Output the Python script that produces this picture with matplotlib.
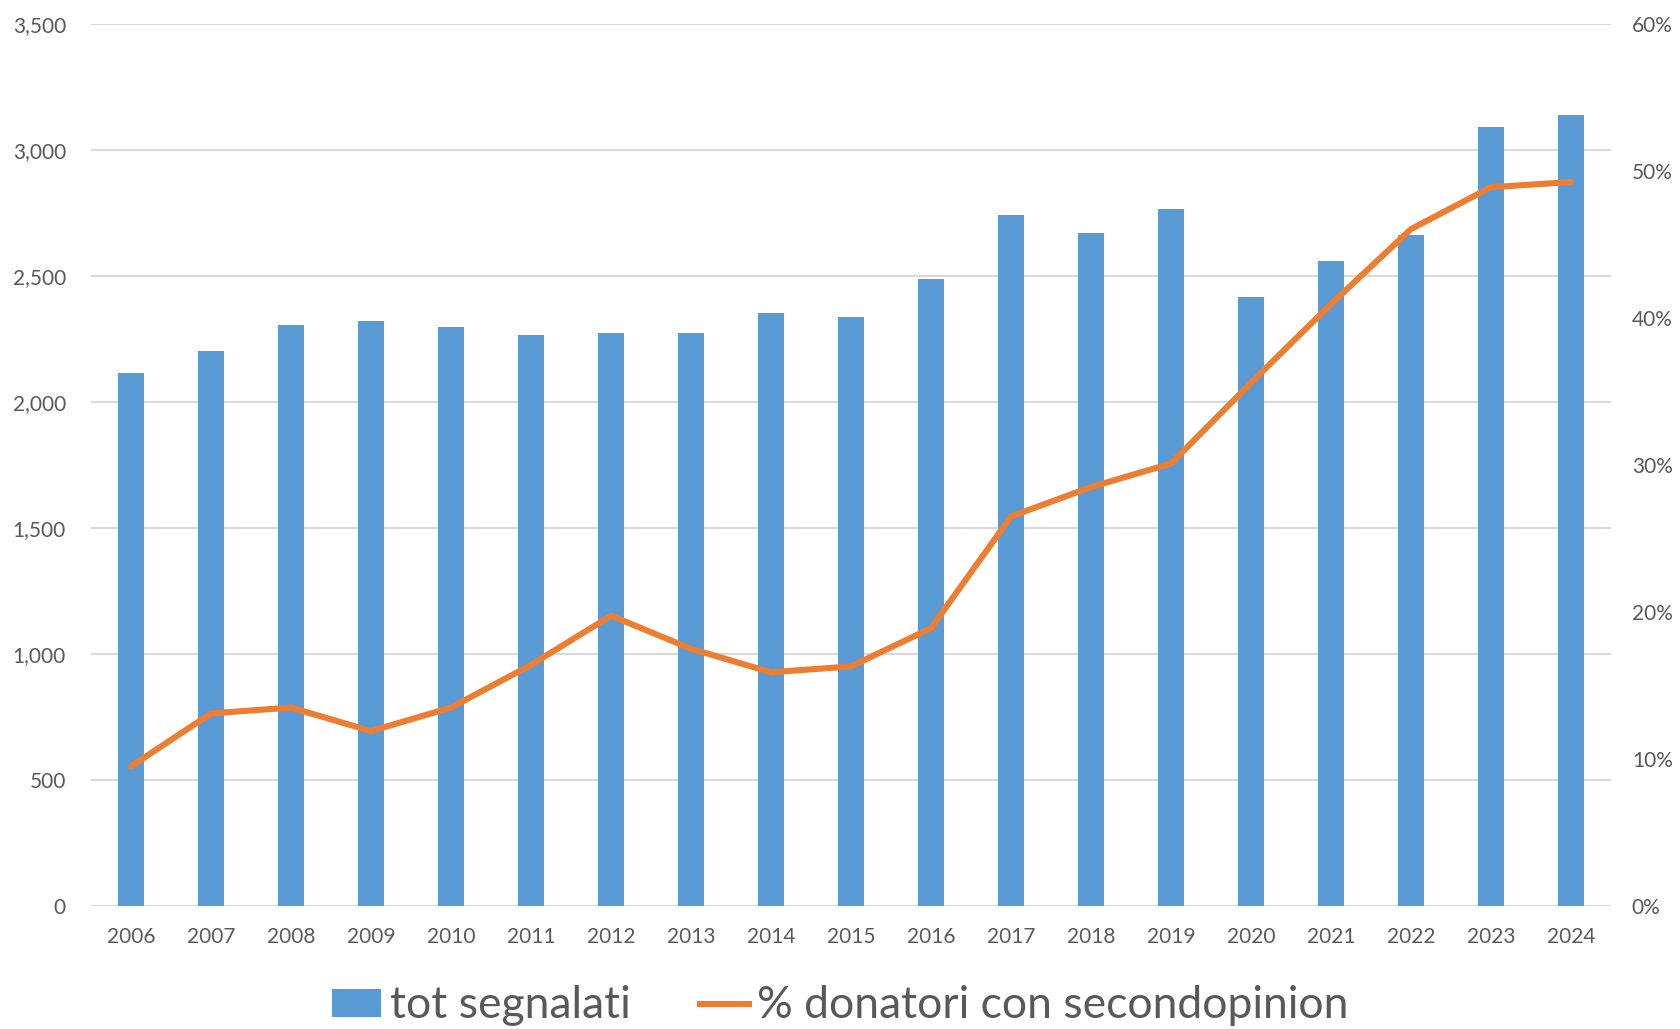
import matplotlib
matplotlib.use("Agg")
import matplotlib.pyplot as plt
from matplotlib.ticker import FuncFormatter, MultipleLocator
from matplotlib.patches import Patch
from matplotlib.lines import Line2D

years = ["2006", "2007", "2008", "2009", "2010", "2011", "2012", "2013", "2014", "2015",
         "2016", "2017", "2018", "2019", "2020", "2021", "2022", "2023", "2024"]
tot_segnalati = [2115, 2202, 2306, 2321, 2298, 2266, 2274, 2274, 2353, 2337,
                 2488, 2742, 2671, 2766, 2417, 2560, 2663, 3091, 3139]
pct_secondopinion = [9.5, 13.1, 13.5, 11.9, 13.5, 16.4, 19.75, 17.5, 15.9, 16.3,
                     18.9, 26.5, 28.5, 30.1, 35.6, 40.95, 46.05, 48.9, 49.25]

bar_label = "tot segnalati"
line_label = "% donatori con secondopinion"

BLUE = "#5B9BD5"
ORANGE = "#ED7D31"
TXT = "#595959"
GRID = "#D9D9D9"

plt.rcParams['font.family'] = ['Lato', 'DejaVu Sans']

fig = plt.figure(figsize=(16.81, 10.29), dpi=100)
ax = fig.add_axes([91/1681, 1 - 906/1029, (1611-91)/1681, (906-24)/1029])
x = list(range(len(years)))
ax.bar(x, tot_segnalati, width=0.33, color=BLUE, zorder=2)
ax.set_xlim(-0.5, len(years) - 0.5)
ax.set_ylim(0, 3500)
ax.yaxis.set_major_locator(MultipleLocator(500))
ax.yaxis.set_major_formatter(FuncFormatter(lambda v, p: f"{int(v):,}"))
ax.grid(axis='y', color=GRID, linewidth=1.5, zorder=0)
ax.set_axisbelow(True)
for s in ax.spines.values():
    s.set_visible(False)
ax.set_xticks(x)
ax.set_xticklabels(years)
ax.tick_params(axis='both', length=0, labelsize=15, labelcolor=TXT)
ax.tick_params(axis='y', pad=18)
ax.tick_params(axis='x', pad=15)

ax2 = ax.twinx()
ax2.plot(x, pct_secondopinion, color=ORANGE, linewidth=4.4, solid_capstyle='round', zorder=3)
ax2.set_ylim(0, 60)
ax2.yaxis.set_major_locator(MultipleLocator(10))
ax2.yaxis.set_major_formatter(FuncFormatter(lambda v, p: f"{int(v)}%"))
for s in ax2.spines.values():
    s.set_visible(False)
ax2.tick_params(axis='y', length=0, labelsize=15, labelcolor=TXT, pad=15)

handles = [Patch(facecolor=BLUE, edgecolor='none'),
           Line2D([0], [0], color=ORANGE, linewidth=4.4)]
leg = fig.legend(handles, [bar_label, line_label], loc='center',
                 bbox_to_anchor=(0.5, 1 - 1006/1029), ncol=2, frameon=False,
                 fontsize=32, handlelength=1.1, handleheight=0.6,
                 handletextpad=0.2, columnspacing=1.55)
for t in leg.get_texts():
    t.set_color(TXT)

fig.savefig("out.png", dpi=100)
